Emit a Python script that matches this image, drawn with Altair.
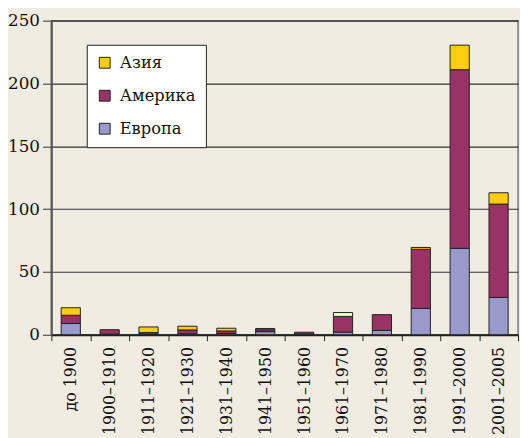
import altair as alt
import pandas as pd

periods = ["до 1900", "1900–1910", "1911–1920", "1921–1930", "1931–1940", "1941–1950",
           "1951–1960", "1961–1970", "1971–1980", "1981–1990", "1991–2000", "2001–2005"]
europe = [9, 0.5, 0.5, 0.8, 1, 2.5, 0.5, 2.1, 3.4, 21, 68.8, 29.7]
america = [6.5, 3.5, 1.2, 3, 2, 1.5, 1.5, 12.5, 12.6, 47, 142.2, 74.3]
asia = [6, 0, 4.5, 3, 2.2, 1, 0, 0, 0, 1.5, 19.5, 9]
other = [0, 0, 0, 0, 0, 0, 0, 3.1, 0, 0, 0, 0]

series_names = ["Азия", "Америка", "Европа", "Другие"]
series_colors = ["#FFCC11", "#993366", "#9999CC", "#FFF6CC"]
stack_order = {"Европа": 0, "Америка": 1, "Азия": 2, "Другие": 3}

rows = []
for name, vals in [("Европа", europe), ("Америка", america), ("Азия", asia), ("Другие", other)]:
    for p, v in zip(periods, vals):
        if v > 0:
            rows.append({"period": p, "series": name, "value": v, "ord": stack_order[name]})
df = pd.DataFrame(rows)

font = "DejaVu Serif"

chart = alt.Chart(df).mark_bar(size=19.5, stroke="#222222", strokeWidth=1).encode(
    x=alt.X("period:N", sort=periods,
            scale=alt.Scale(paddingInner=0, paddingOuter=0),
            axis=alt.Axis(title=None, labelAngle=270, labelFontSize=16,
                          labelColor="#111111", tickBand="extent", tickSize=6,
                          tickColor="#222222", labelPadding=6, domainColor="#222222",
                          domainWidth=2, grid=False)),
    y=alt.Y("value:Q", stack="zero",
            scale=alt.Scale(domain=[0, 250], nice=False),
            axis=alt.Axis(title=None, values=[0, 50, 100, 150, 200, 250], labelFontSize=17,
                          labelColor="#111111", tickSize=9, tickColor="#333333",
                          labelPadding=3, domainColor="#555555", domainWidth=2,
                          gridColor="#333333", gridWidth=1.2)),
    color=alt.Color("series:N",
                    scale=alt.Scale(domain=series_names, range=series_colors),
                    legend=alt.Legend(title=None, orient="none", legendX=36, legendY=24.5,
                                      values=["Азия", "Америка", "Европа"],
                                      fillColor="white", strokeColor="#222222",
                                      padding=10, rowPadding=16.5, symbolType="square",
                                      symbolSize=121, symbolStrokeColor="#222222",
                                      symbolStrokeWidth=1, symbolOpacity=1,
                                      labelFontSize=16.5, labelColor="#111111",
                                      labelOffset=7)),
    order=alt.Order("ord:Q"),
).properties(
    width=474, height=319,
    autosize=alt.AutoSizeParams(type="none"),
    padding={"left": 44, "top": 9.5, "right": 2, "bottom": 102},
    background="#F0ECE2",
).configure(font=font).configure_view(stroke="#777777", strokeWidth=1.5)

chart.save("out.html", embed_options={"renderer": "svg", "actions": False})
